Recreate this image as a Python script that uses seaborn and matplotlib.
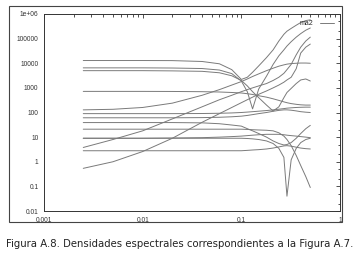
import numpy as np
import pandas as pd
import matplotlib
matplotlib.use("Agg")
import matplotlib.pyplot as plt
import seaborn as sns
from matplotlib.lines import Line2D
from matplotlib.patches import Rectangle
from matplotlib.ticker import LogLocator, FixedFormatter, FixedLocator, NullFormatter

# frequencies shared by all curves
freq = [0.0025, 0.005, 0.01, 0.02, 0.04, 0.06, 0.08, 0.1, 0.115, 0.13, 0.15,
        0.18, 0.21, 0.24, 0.27, 0.29, 0.32, 0.36, 0.4, 0.45, 0.5]

# spectral densities
ma2 = [12900, 12900, 12900, 12800, 11800, 9500, 5500, 2200, 2700, 4300, 7800,
       17000, 35000, 80000, 150000, 200000, 260000, 350000, 450000, 540000, 580000]
s_v = [6500, 6500, 6500, 6400, 6100, 5300, 3800, 1900, 700, 140, 900,
       3000, 9000, 20000, 35000, 50000, 75000, 115000, 160000, 220000, 270000]
s_u = [5000, 5000, 5000, 4900, 4700, 4100, 3100, 2000, 1200, 700, 400,
       200, 115, 170, 400, 650, 950, 1500, 2100, 2300, 1900]
s_720 = [720, 720, 720, 715, 700, 680, 650, 620, 580, 540, 480,
         420, 360, 310, 270, 250, 230, 215, 205, 200, 200]
s_128 = [128, 135, 160, 240, 500, 850, 1300, 1800, 2300, 2900, 3700,
         5000, 6300, 7600, 8600, 9200, 9700, 10000, 10200, 10200, 10000]
s_90 = [90, 90, 90, 90, 91, 93, 96, 100, 104, 108, 113,
        120, 128, 136, 144, 150, 155, 160, 163, 165, 165]
s_61 = [61, 61, 61, 61, 62, 64, 67, 71, 76, 82, 90,
        100, 112, 122, 128, 128, 124, 116, 108, 103, 100]
s_39 = [39, 39, 39, 39, 38, 35, 31, 28, 22, 18, 14,
        10, 7, 5.5, 4.8, 5, 6, 9, 14, 22, 30]
s_21 = [21, 21, 21, 21, 21, 21, 21, 21, 20.5, 20, 19.5,
        19, 18, 15, 11, 8, 4.5, 1.8, 0.7, 0.25, 0.09]
s_9a = [9, 9, 9, 9, 9, 9, 9, 9, 8.8, 8.5, 8,
        7, 5.5, 3.5, 1.5, 0.04, 1.2, 3.5, 6, 8, 9]
s_9b = [9, 9, 9, 9.2, 9.5, 10, 10.5, 11, 11.5, 12, 12.5,
        13, 13, 13, 12.5, 12, 11.5, 11, 10.5, 10, 9.5]
s_4 = [3.8, 8, 18, 55, 170, 330, 500, 700, 850, 1000, 1200,
       1500, 2000, 2700, 3900, 5500, 9000, 22000, 45000, 80000, 115000]
s_3 = [2.8, 2.8, 2.8, 2.8, 2.8, 2.8, 2.8, 2.8, 2.9, 3.0, 3.1,
       3.3, 3.6, 4.0, 4.4, 4.5, 4.3, 3.9, 3.6, 3.4, 3.3]
s_05 = [0.54, 1.0, 2.6, 9, 40, 90, 160, 250, 330, 420, 550,
        750, 1000, 1300, 1700, 2100, 2700, 6000, 26000, 45000, 60000]

curves = {"ma2": ma2, "s_v": s_v, "s_u": s_u, "s_720": s_720, "s_128": s_128,
          "s_90": s_90, "s_61": s_61, "s_39": s_39, "s_21": s_21, "s_9a": s_9a,
          "s_9b": s_9b, "s_4": s_4, "s_3": s_3, "s_05": s_05}

xticks = [0.001, 0.01, 0.1, 1]
xlabels = ["0.001", "0.01", "0.1", "1"]
yticks = [0.01, 0.1, 1, 10, 100, 1000, 10000, 100000, 1e6]
ylabels = ["0.01", "0.1", "1", "10", "100", "1000", "10000", "100000", "1e+06"]
caption = "Figura A.8. Densidades espectrales correspondientes a la Figura A.7."

df = pd.concat([pd.DataFrame({"freq": freq, "value": v, "curve": k})
                for k, v in curves.items()], ignore_index=True)

sns.set_style("white")
plt.rcParams["font.family"] = ["DejaVu Sans"]

W, H = 360, 257
fig = plt.figure(figsize=(W / 100, H / 100), dpi=100)
ax = fig.add_axes([44 / W, 1 - 211 / H, (340 - 44) / W, (211 - 14) / H])

line_col = "#7a7a7a"
sns.lineplot(data=df, x="freq", y="value", units="curve", estimator=None,
             color=line_col, linewidth=0.7, ax=ax, legend=False)

ax.set_xscale("log")
ax.set_yscale("log")
ax.set_xlim(0.001, 1)
ax.set_ylim(0.01, 1e6)
ax.set_xlabel("")
ax.set_ylabel("")

ax.xaxis.set_major_locator(FixedLocator(xticks))
ax.xaxis.set_major_formatter(FixedFormatter(xlabels))
ax.xaxis.set_minor_locator(LogLocator(base=10, subs=np.arange(2, 10)))
ax.xaxis.set_minor_formatter(NullFormatter())
ax.yaxis.set_major_locator(FixedLocator(yticks))
ax.yaxis.set_major_formatter(FixedFormatter(ylabels))
ax.yaxis.set_minor_locator(LogLocator(base=10, subs=(2, 5), numticks=20))
ax.yaxis.set_minor_formatter(NullFormatter())

ax.tick_params(which="both", direction="in", top=True, right=True,
               colors="#333333", labelsize=4.8, width=0.6)
ax.tick_params(axis="x", which="major", pad=4)
ax.tick_params(axis="y", which="major", pad=4)
ax.tick_params(which="major", length=3)
ax.tick_params(which="minor", length=1.8)
for lab in ax.get_xticklabels() + ax.get_yticklabels():
    lab.set_family("Liberation Sans")
for sp in ax.spines.values():
    sp.set_color("#333333")
    sp.set_linewidth(0.7)

handle = Line2D([], [], color=line_col, linewidth=0.7)
leg = ax.legend([handle], ["ma2"], loc="upper right", frameon=False,
                markerfirst=False, prop={"family": "Liberation Sans", "size": 5},
                handlelength=2.0, borderaxespad=0.5, handletextpad=1.0)

fig.patches.append(Rectangle((9 / W, 1 - 222 / H), (342 - 9) / W, (222 - 6) / H,
                             transform=fig.transFigure, fill=False,
                             edgecolor="#444444", linewidth=0.8))

fig.text(0.5, 1 - 244 / H, caption, ha="center", va="center",
         fontsize=7.3, color="#222222")

fig.savefig("out.png", dpi=100)
